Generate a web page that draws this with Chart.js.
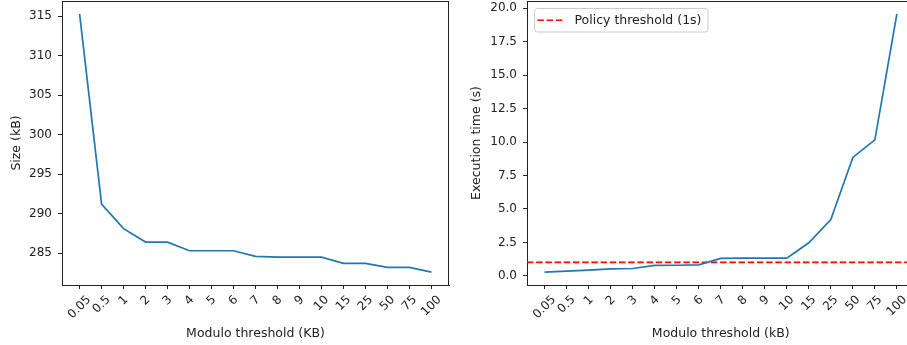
<!DOCTYPE html>
<html>
<head>
<meta charset="utf-8">
<script src="https://cdn.jsdelivr.net/npm/chart.js@4.4.1/dist/chart.umd.min.js"></script>
<style>
  html, body { margin: 0; padding: 0; background: #fff; overflow: hidden; }
  #wrap { position: relative; width: 907px; height: 345px; overflow: hidden; }
  #sizeChart { position: absolute; left: 0; top: 0; }
  #timeChart { position: absolute; left: 455px; top: 0; }
</style>
</head>
<body>
<div id="wrap">
  <canvas id="sizeChart" width="455" height="345"></canvas>
  <canvas id="timeChart" width="462" height="345"></canvas>
</div>
<script>
// data
const thresholds = ["0.05", "0.5", "1", "2", "3", "4", "5", "6", "7", "8", "9", "10", "15", "25", "50", "75", "100"];
const sizeKB = [315.3, 291.2, 288.1, 286.4, 286.4, 285.3, 285.3, 285.3, 284.6, 284.5, 284.5, 284.5, 283.7, 283.7, 283.2, 283.2, 282.6];
const execTime = [0.28, 0.35, 0.43, 0.52, 0.55, 0.78, 0.79, 0.82, 1.30, 1.32, 1.32, 1.32, 2.47, 4.21, 8.85, 10.17, 19.58];
const policyThreshold = 1;
const policyLabel = "Policy threshold (1s)";
const sizeTicks = [285, 290, 295, 300, 305, 310, 315];
const timeTicks = [0, 2.5, 5, 7.5, 10, 12.5, 15, 17.5, 20];

Chart.defaults.font.family = '"DejaVu Sans", sans-serif';
Chart.defaults.color = '#222';

const FONT_TICK = 12;
const FONT_TITLE = 12.5;
const INK = '#222';

// matplotlib-like 5% margins
function padRange(vals) {
    const lo = Math.min(...vals), hi = Math.max(...vals);
    const m = (hi - lo) * 0.05;
    return [lo - m, hi + m];
}
const xRange = padRange(thresholds.map((_, i) => i));

// box around the plot area (top + right spines)
const frame = {
    id: 'frame',
    afterDraw(chart) {
        const a = chart.chartArea, ctx = chart.ctx;
        ctx.save();
        ctx.strokeStyle = INK;
        ctx.lineWidth = 1;
        ctx.beginPath();
        ctx.moveTo(a.left, Math.round(a.top) + 0.5);
        ctx.lineTo(a.right, Math.round(a.top) + 0.5);
        ctx.moveTo(Math.round(a.right) - 0.5, a.top);
        ctx.lineTo(Math.round(a.right) - 0.5, a.bottom);
        ctx.stroke();
        ctx.restore();
    }
};

// 45 degree labels centred under the tick, like matplotlib
const rotatedLabels = {
    id: 'rotatedLabels',
    afterDraw(chart) {
        const xs = chart.scales.x, ctx = chart.ctx;
        ctx.save();
        ctx.font = FONT_TICK + 'px "DejaVu Sans"';
        ctx.fillStyle = INK;
        ctx.textAlign = 'center';
        ctx.textBaseline = 'middle';
        const top = chart.chartArea.bottom + 8;
        xs.ticks.forEach(t => {
            const label = thresholds[t.value];
            const w = ctx.measureText(label).width;
            const half = (w + FONT_TICK * 1.15) * Math.SQRT1_2 / 2;
            ctx.save();
            ctx.translate(xs.getPixelForValue(t.value), top + half);
            ctx.rotate(-Math.PI / 4);
            ctx.fillText(label, 0, 0);
            ctx.restore();
        });
        ctx.restore();
    }
};

// legend inside the axes, upper left
const innerLegend = {
    id: 'innerLegend',
    afterDraw(chart) {
        const ds = chart.data.datasets.find(d => d.label === policyLabel);
        const a = chart.chartArea, ctx = chart.ctx;
        ctx.save();
        ctx.font = FONT_TITLE + 'px "DejaVu Sans"';
        const tw = ctx.measureText(ds.label).width;
        const x = a.left + 7, y = a.top + 7;
        const w = 3.5 + 27 + 10 + tw + 6, h = 23.5;
        ctx.beginPath();
        ctx.roundRect(x + 0.5, y + 0.5, w, h, 3);
        ctx.fillStyle = 'rgba(255,255,255,0.8)';
        ctx.fill();
        ctx.strokeStyle = '#cccccc';
        ctx.lineWidth = 1;
        ctx.stroke();
        ctx.beginPath();
        ctx.setLineDash(ds.borderDash);
        ctx.strokeStyle = ds.borderColor;
        ctx.lineWidth = ds.borderWidth;
        ctx.moveTo(x + 3.5, y + h / 2 + 0.5);
        ctx.lineTo(x + 30.5, y + h / 2 + 0.5);
        ctx.stroke();
        ctx.setLineDash([]);
        ctx.fillStyle = INK;
        ctx.textBaseline = 'middle';
        ctx.fillText(ds.label, x + 40.5, y + h / 2 + 1);
        ctx.restore();
    }
};

function makeChart(canvasId, values, yTicks, yTitle, xTitle, yWidth, yTitlePad, rightPad, extraSets, extraPlugins, tickFmt) {
    const yRange = padRange(values);
    return new Chart(document.getElementById(canvasId), {
        type: 'line',
        data: {
            datasets: [{
                label: yTitle,
                data: values.map((v, i) => ({x: i, y: v})),
                borderColor: '#1f77b4',
                borderWidth: 1.7,
                pointRadius: 0,
                tension: 0,
                fill: false
            }].concat(extraSets)
        },
        options: {
            responsive: false,
            animation: false,
            devicePixelRatio: 1,
            layout: {padding: {top: 1, right: rightPad, left: 0, bottom: 0}},
            plugins: {
                legend: {display: false},
                tooltip: {enabled: false}
            },
            scales: {
                x: {
                    type: 'linear',
                    min: xRange[0],
                    max: xRange[1],
                    afterBuildTicks: axis => { axis.ticks = thresholds.map((_, i) => ({value: i})); },
                    afterFit: s => { s.height = 60; s.paddingLeft = 0; s.paddingRight = 0; },
                    ticks: {display: false},
                    grid: {display: true, drawOnChartArea: false, drawTicks: true, tickLength: 4, tickColor: INK, tickWidth: 1},
                    border: {display: true, color: INK, width: 1},
                    title: {display: true, text: xTitle, color: INK, font: {size: FONT_TITLE}, padding: {top: 0, bottom: 4}}
                },
                y: {
                    type: 'linear',
                    min: yRange[0],
                    max: yRange[1],
                    afterBuildTicks: axis => { axis.ticks = yTicks.map(v => ({value: v})); },
                    afterFit: s => { s.width = yWidth; s.paddingTop = 0; s.paddingBottom = 0; },
                    ticks: {color: INK, font: {size: FONT_TICK}, padding: 6, callback: tickFmt},
                    grid: {display: true, drawOnChartArea: false, drawTicks: true, tickLength: 4, tickColor: INK, tickWidth: 1},
                    border: {display: true, color: INK, width: 1},
                    title: {display: true, text: yTitle, color: INK, font: {size: FONT_TITLE}, padding: {top: yTitlePad, bottom: 0}}
                }
            }
        },
        plugins: [frame, rotatedLabels].concat(extraPlugins)
    });
}

makeChart('sizeChart', sizeKB, sizeTicks, 'Size (kB)', 'Modulo threshold (KB)',
    62, 9, 6, [], [], v => String(v));

makeChart('timeChart', execTime, timeTicks, 'Execution time (s)', 'Modulo threshold (kB)',
    72, 14.5, 2.5,
    [{
        label: policyLabel,
        data: [{x: xRange[0], y: policyThreshold}, {x: xRange[1], y: policyThreshold}],
        borderColor: '#ff0000',
        borderWidth: 1.7,
        borderDash: [6.4, 2.8],
        pointRadius: 0,
        fill: false
    }],
    [innerLegend], v => v.toFixed(1));
</script>
</body>
</html>
